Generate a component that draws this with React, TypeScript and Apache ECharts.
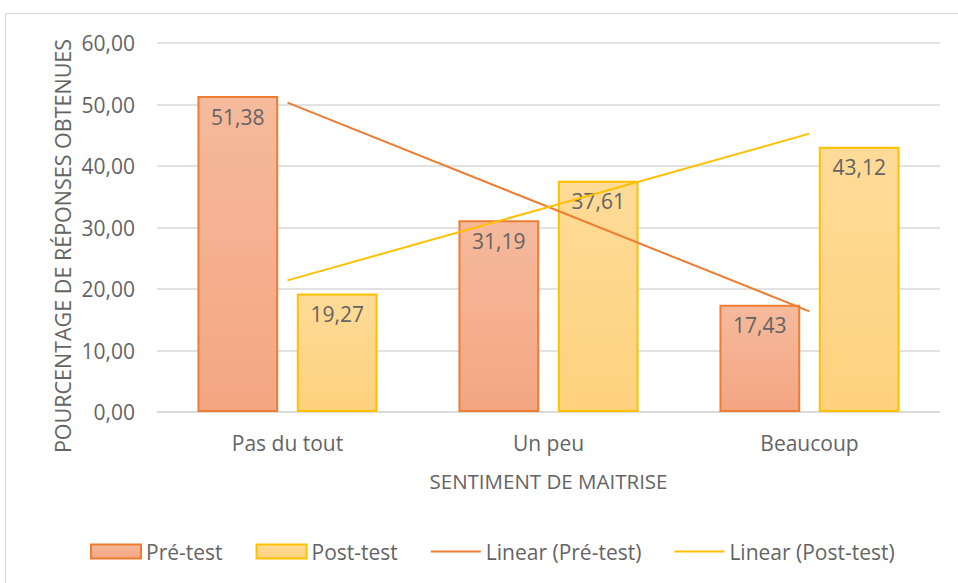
import React, { useEffect, useRef } from "react";
import * as echarts from "echarts";

const categories = ["Pas du tout", "Un peu", "Beaucoup"];
const preTest = [51.38, 31.19, 17.43];
const postTest = [19.27, 37.61, 43.12];
const yTicks = { min: 0, max: 60, interval: 10 };

const seriesNames = ["Pré-test", "Post-test", "Linear (Pré-test)", "Linear (Post-test)"];

function linearTrend(vals: number[]): number[] {
  const n = vals.length;
  const xs = vals.map((_, i) => i + 1);
  const mx = xs.reduce((a, b) => a + b, 0) / n;
  const my = vals.reduce((a, b) => a + b, 0) / n;
  let num = 0;
  let den = 0;
  for (let i = 0; i < n; i++) {
    num += (xs[i] - mx) * (vals[i] - my);
    den += (xs[i] - mx) * (xs[i] - mx);
  }
  const slope = num / den;
  return xs.map((x) => my + slope * (x - mx));
}

const fmt = (v: number) => v.toFixed(2).replace(".", ",");
const FONT = "Open Sans";
const GREY = "#646464";
const LINE_ICON = "path://M0,0H50V2H0Z";

export default function App() {
  const ref = useRef<HTMLDivElement>(null);
  useEffect(() => {
    if (!ref.current) return;
    const chart = echarts.init(ref.current, null, { renderer: "svg" });
    const label = {
      show: true,
      position: "insideTop",
      distance: 10,
      color: GREY,
      fontSize: 21,
      fontFamily: FONT,
      formatter: (p: any) => fmt(p.value),
    };
    chart.setOption({
      animation: false,
      textStyle: { fontFamily: FONT },
      graphic: [
        {
          type: "rect",
          shape: { x: 5.5, y: 13.5, width: 1000, height: 1000 },
          style: { fill: "none", stroke: "#D9D9D9", lineWidth: 1 },
          silent: true,
        },
        {
          type: "text",
          x: 62,
          y: 246,
          rotation: Math.PI / 2,
          style: {
            text: "POURCENTAGE DE RÉPONSES OBTENUES",
            fill: GREY,
            fontSize: 21.5,
            fontFamily: FONT,
            align: "center",
            verticalAlign: "middle",
          },
        },
      ],
      grid: { left: 157, right: 18, top: 43, bottom: 171, containLabel: false },
      legend: {
        top: 536,
        left: 85,
        itemWidth: 50,
        itemHeight: 14,
        itemGap: 33,
        textStyle: { color: GREY, fontSize: 21, fontFamily: FONT },
        data: [
          { name: seriesNames[0], icon: "rect" },
          { name: seriesNames[1], icon: "rect" },
          { name: seriesNames[2], icon: LINE_ICON },
          { name: seriesNames[3], icon: LINE_ICON },
        ],
      },
      xAxis: {
        type: "category",
        data: categories,
        name: "SENTIMENT DE MAITRISE",
        nameLocation: "middle",
        nameGap: 58,
        nameTextStyle: { color: GREY, fontSize: 20.5, fontFamily: FONT },
        axisLine: { lineStyle: { color: "#D9D9D9", width: 1.5 } },
        axisTick: { show: false },
        axisLabel: { color: GREY, fontSize: 21, fontFamily: FONT, margin: 20 },
      },
      yAxis: {
        type: "value",
        min: yTicks.min,
        max: yTicks.max,
        interval: yTicks.interval,
        axisLine: { show: false },
        axisTick: { show: false },
        splitLine: { lineStyle: { color: "#D9D9D9", width: 1.5 } },
        axisLabel: {
          color: GREY,
          fontSize: 21,
          fontFamily: FONT,
          margin: 22,
          formatter: (v: number) => fmt(v),
        },
      },
      series: [
        {
          name: seriesNames[0],
          type: "bar",
          data: preTest,
          barGap: "23%",
          barCategoryGap: "31%",
          itemStyle: {
            color: new echarts.graphic.LinearGradient(0, 0, 0, 1, [
              { offset: 0, color: "#F5BA9C" },
              { offset: 1, color: "#F4A582" },
            ]),
            borderColor: "#ED7D31",
            borderWidth: 2,
          },
          label,
        },
        {
          name: seriesNames[1],
          type: "bar",
          data: postTest,
          itemStyle: {
            color: new echarts.graphic.LinearGradient(0, 0, 0, 1, [
              { offset: 0, color: "#FEDB98" },
              { offset: 1, color: "#FED27D" },
            ]),
            borderColor: "#FFC000",
            borderWidth: 2,
          },
          label,
        },
        {
          name: seriesNames[2],
          type: "line",
          data: linearTrend(preTest),
          symbol: "none",
          lineStyle: { color: "#ED7D31", width: 2 },
          itemStyle: { color: "#ED7D31" },
          z: 5,
        },
        {
          name: seriesNames[3],
          type: "line",
          data: linearTrend(postTest),
          symbol: "none",
          lineStyle: { color: "#FFC000", width: 2 },
          itemStyle: { color: "#FFC000" },
          z: 5,
        },
      ],
    });
    return () => chart.dispose();
  }, []);
  return (
    <div
      ref={ref}
      style={{ position: "fixed", left: 0, top: 0, width: 958, height: 583, background: "#fff" }}
    />
  );
}
